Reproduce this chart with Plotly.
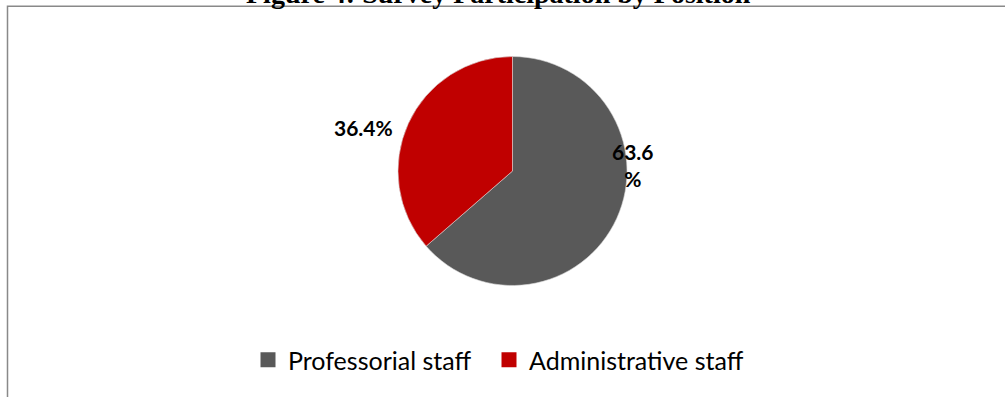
import plotly.graph_objects as go

# Survey participation by staff position (percent of respondents)
positions = ["Professorial staff", "Administrative staff"]
shares = [63.6, 36.4]
slice_colors = ["#595959", "#C00000"]

# Data-label placement (paper coordinates) and line breaks per slice
label_xy = [(0.6299, 0.584), (0.3612, 0.6776)]
label_fmt = ["{:.1f}<br>%", "{:.1f}%"]

# Left edge (px) of each legend entry
legend_left = [248, 489]

W, H = 1005, 397
cx, cy, r = 512.5, 171.0, 114.5  # pie centre / radius in pixels from top-left

fig = go.Figure(
    go.Pie(
        labels=positions,
        values=shares,
        sort=False,
        direction="clockwise",
        rotation=0,
        textinfo="none",
        hoverinfo="label+percent",
        showlegend=False,
        marker=dict(colors=slice_colors, line=dict(color="#d9d9d9", width=0.6)),
        domain=dict(
            x=[(cx - r) / W, (cx + r) / W],
            y=[(H - cy - r) / H, (H - cy + r) / H],
        ),
    )
)

# One legend entry per slice, each in its own legend box
legend_font = dict(family="Lato, 'Liberation Sans', sans-serif", size=25, color="#000000")
legend_layout = {}
for i, (name, col, lx) in enumerate(zip(positions, slice_colors, legend_left)):
    key = "legend" if i == 0 else f"legend{i + 1}"
    fig.add_trace(
        go.Scatter(
            x=[None], y=[None], mode="markers", name=name,
            marker=dict(symbol="square", size=15, color=col),
            showlegend=True, legend=key, hoverinfo="skip",
        )
    )
    legend_layout[key] = dict(
        orientation="h", x=lx / W, xanchor="left",
        y=(H - 360) / H, yanchor="middle",
        font=legend_font, bgcolor="rgba(0,0,0,0)",
        itemclick=False, itemdoubleclick=False,
    )

for val, fmt, (lx, ly) in zip(shares, label_fmt, label_xy):
    fig.add_annotation(
        x=lx, y=ly, xref="paper", yref="paper",
        text=fmt.format(val), showarrow=False,
        xanchor="center", yanchor="middle", align="center",
        font=dict(family="Lato, 'Liberation Sans', sans-serif", size=21,
                  color="#000000", weight="bold"),
    )

# Figure caption above the chart frame
fig.add_annotation(
    x=498.5 / W, y=1 + 6 / H, xref="paper", yref="paper",
    text="<b>Figure 4: Survey Participation by Position</b>", showarrow=False,
    xanchor="center", yanchor="middle",
    font=dict(family="'Liberation Serif', 'Times New Roman', serif", size=28, color="#000000"),
)

# Chart frame
fig.add_shape(
    type="rect", xref="paper", yref="paper",
    x0=7.5 / W, x1=1.05, y0=-0.05, y1=1 - 6.3 / H,
    line=dict(color="#898989", width=1.5), fillcolor="rgba(0,0,0,0)",
    layer="above",
)

fig.update_layout(
    width=W, height=H,
    margin=dict(l=0, r=0, t=0, b=0),
    paper_bgcolor="#ffffff", plot_bgcolor="#ffffff",
    xaxis=dict(visible=False), yaxis=dict(visible=False),
    showlegend=True,
    **legend_layout,
)

fig.write_html("out.html")
